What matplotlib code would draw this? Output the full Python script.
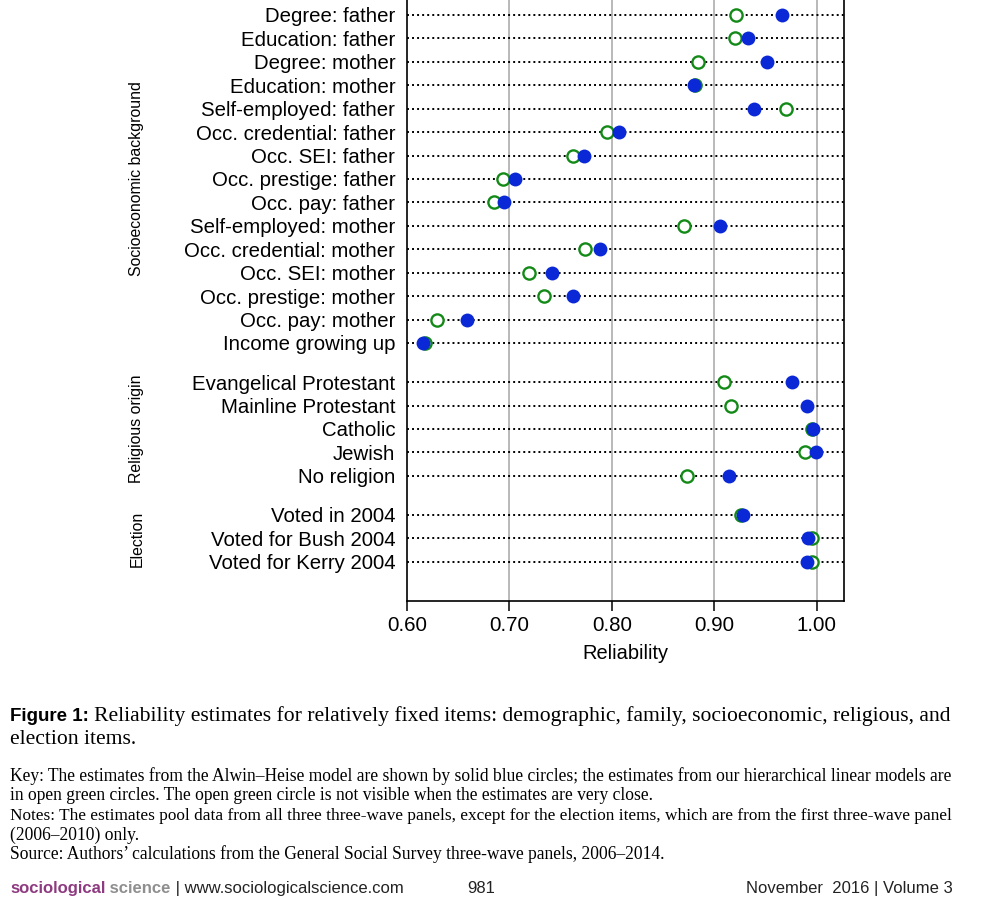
import matplotlib
matplotlib.use("Agg")
import matplotlib.pyplot as plt
import matplotlib.transforms as mtransforms

# ---- data ------------------------------------------------------------
ses_labels = [
    "Degree: father", "Education: father", "Degree: mother", "Education: mother",
    "Self-employed: father", "Occ. credential: father", "Occ. SEI: father",
    "Occ. prestige: father", "Occ. pay: father", "Self-employed: mother",
    "Occ. credential: mother", "Occ. SEI: mother", "Occ. prestige: mother",
    "Occ. pay: mother", "Income growing up",
]
ses_alwin = [0.966, 0.933, 0.951, 0.880, 0.939, 0.807, 0.773, 0.705, 0.695,
             0.906, 0.788, 0.742, 0.762, 0.659, 0.616]
ses_hlm = [0.921, 0.920, 0.884, 0.881, 0.970, 0.795, 0.762, 0.694, 0.685,
           0.870, 0.774, 0.719, 0.734, 0.629, 0.618]

rel_labels = ["Evangelical Protestant", "Mainline Protestant", "Catholic",
              "Jewish", "No religion"]
rel_alwin = [0.976, 0.990, 0.996, 0.999, 0.914]
rel_hlm = [0.909, 0.916, 0.995, 0.989, 0.873]

elec_labels = ["Voted in 2004", "Voted for Bush 2004", "Voted for Kerry 2004"]
elec_alwin = [0.928, 0.991, 0.990]
elec_hlm = [0.926, 0.995, 0.995]

group_names = ["Socioeconomic background", "Religious origin", "Election"]
xticks = [0.60, 0.70, 0.80, 0.90, 1.00]

BLUE = "#0a28d6"
GREEN = "#138a17"
GAP = 0.67          # extra space between groups, in rows
SANS = ["Liberation Sans", "DejaVu Sans"]
SERIF = ["Liberation Serif", "DejaVu Serif"]

# ---- positions --------------------------------------------------------
groups = [(ses_labels, ses_alwin, ses_hlm),
          (rel_labels, rel_alwin, rel_hlm),
          (elec_labels, elec_alwin, elec_hlm)]
labels, alwin, hlm, ypos, centers = [], [], [], [], []
y = 0.0
for lab, a, h in groups:
    ys = [y + i for i in range(len(lab))]
    labels += lab; alwin += a; hlm += h; ypos += ys
    centers.append((ys[0] + ys[-1]) / 2)
    y = ys[-1] + 1 + GAP

W, H = 1000, 915
fig = plt.figure(figsize=(W / 100, H / 100), dpi=100)
ax = fig.add_axes([407 / W, 1 - 601 / H, (844 - 407) / W, (601 + 24.2) / H])

ax.set_xlim(0.60, 1.0266)
ax.set_ylim(ypos[-1] + 1 + GAP, -1 - GAP)

for xv in xticks[1:]:
    ax.axvline(xv, color="#b3b3b3", lw=1.3, zorder=1)
ax.hlines(ypos, 0.60, 1.0266, colors="black", lw=1.4,
          linestyles=[(0, (1, 1.6))], zorder=2)

ax.plot(hlm, ypos, "o", ms=8.8, mfc="white", mec=GREEN, mew=1.7,
        ls="none", zorder=3)
ax.plot(alwin, ypos, "o", ms=10, mfc=BLUE, mec=BLUE, mew=0,
        ls="none", zorder=4)

ax.set_yticks(ypos)
ax.set_yticklabels(labels, family=SANS, fontsize=14.7)
ax.tick_params(axis="y", length=0, pad=8.5)
ax.set_xticks(xticks)
ax.set_xticklabels([f"{v:.2f}" for v in xticks], family=SANS, fontsize=14.8)
ax.tick_params(axis="x", direction="out", length=7, width=1.1, pad=4)
ax.set_xlabel("Reliability", family=SANS, fontsize=14.4, labelpad=6)
ax.spines["top"].set_visible(False)
for s in ("left", "right", "bottom"):
    ax.spines[s].set_linewidth(1.2)

trans = mtransforms.blended_transform_factory(fig.transFigure, ax.transData)
for name, yc in zip(group_names, centers):
    ax.text(137 / W, yc, name, transform=trans, rotation=90, ha="center",
            va="center", family=SANS, fontsize=11.4, clip_on=False)

# ---- caption ----------------------------------------------------------
fig.canvas.draw()
renderer = fig.canvas.get_renderer()


def px_width(t):
    return t.get_window_extent(renderer).width


def put(x0, ypix, text, size, family=SERIF, **kw):
    return fig.text(x0 / W, 1 - ypix / H, text, family=family, fontsize=size,
                    va="baseline", **kw)


def fit(t, target):
    # rescale font so the text spans `target` pixels
    t.set_fontsize(t.get_fontsize() * target / px_width(t))
    return t.get_fontsize()


fig_lab = put(10, 721, "Figure 1:", 13.5, family=SANS, fontweight="bold")
x_cap = 10 + px_width(fig_lab) + 5
cap = put(x_cap, 721, "Reliability estimates for relatively fixed items: demographic, "
          "family, socioeconomic, religious, and", 14)
cs = fit(cap, 952 - x_cap)
put(10, 744, "election items.", cs)

key = put(10, 781, "Key: The estimates from the Alwin\u2013Heise model are shown by "
          "solid blue circles; the estimates from our hierarchical linear models are", 11)
ks = fit(key, 942)
put(10, 800, "in open green circles. The open green circle is not visible when the "
    "estimates are very close.", ks)
notes = put(10, 820, "Notes: The estimates pool data from all three three-wave panels, "
            "except for the election items, which are from the first three-wave panel", ks)
fit(notes, 937)
put(10, 840, "(2006\u20132010) only.", ks)
put(10, 859, "Source: Authors\u2019 calculations from the General Social Survey "
    "three-wave panels, 2006\u20132014.", ks)

# ---- footer -----------------------------------------------------------
x = 10
for s, kw in [("sociological", dict(color="#8e3a80", fontweight="bold")),
              (" science", dict(color="#8f8f8f", fontweight="bold")),
              (" | www.sociologicalscience.com", dict(color="#222222"))]:
    t = put(x, 893, s, 12, family=SANS, **kw)
    x += px_width(t)
put(481, 893, "981", 12, family=SANS, ha="center", color="#222222")
put(953, 893, "November  2016 | Volume 3", 12, family=SANS, ha="right",
    color="#222222")

fig.savefig("out.png", dpi=100)
